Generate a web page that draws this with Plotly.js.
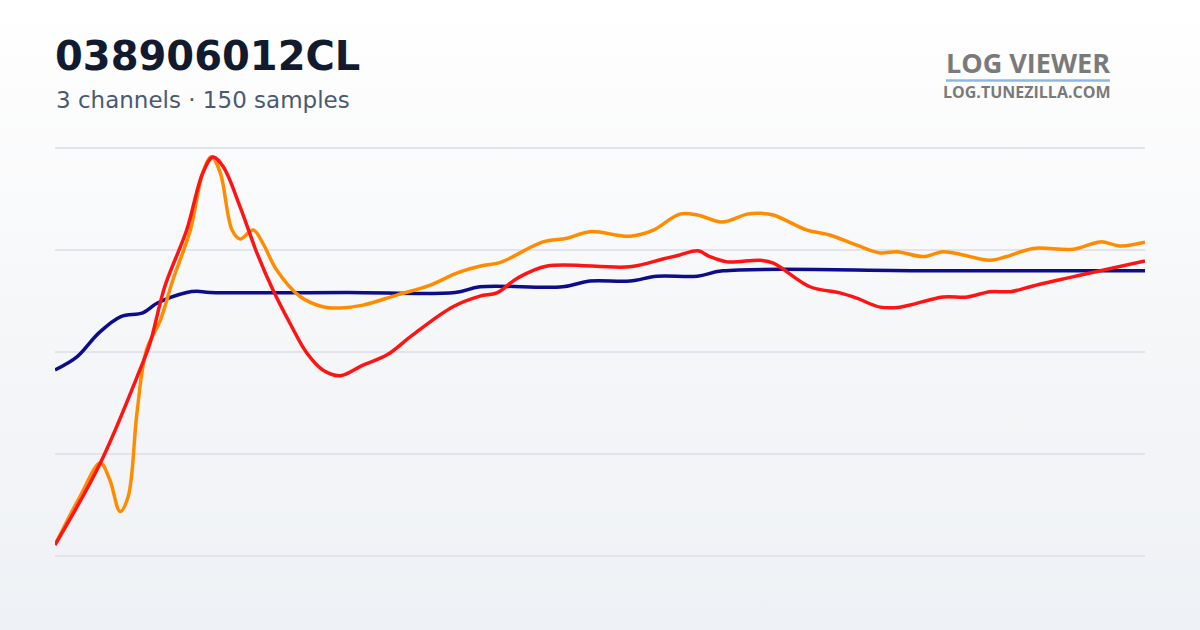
<!DOCTYPE html>
<html>
<head>
<meta charset="utf-8">
<script src="https://cdn.plot.ly/plotly-3.0.1.min.js"></script>
<style>
  html, body { margin: 0; padding: 0; }
  body {
    width: 1200px; height: 630px; overflow: hidden;
    background: linear-gradient(180deg, #ffffff 0%, #f6f7f9 50%, #eef1f5 100%);
  }
  #chart { width: 1200px; height: 630px; }
</style>
</head>
<body>
<div id="chart"></div>
<script>
// sample index / value pairs (values on a 0-100 scale)
const blue_x = [0, 3, 6, 9, 12, 14, 18, 19.4, 21.2, 40, 54.7, 58.1, 69.4, 73.1, 78.6, 82.3, 87.8, 91.3, 120, 149];
const blue_y = [45.6, 48.8, 54.7, 58.7, 59.6, 62.0, 64.6, 64.9, 64.6, 64.6, 64.6, 66.0, 66.0, 67.4, 67.4, 68.6, 68.6, 69.9, 69.9, 69.9];

const red_x = [0, 6.2, 11.6, 13, 15, 18, 20.2, 21.6, 23, 25.3, 27.6, 29.8, 32.1, 34.4, 36.6, 39.0,
  42.1, 45.4, 48.9, 54.4, 58.1, 60.4, 63.2, 67.3, 78.6, 83.1, 85.4, 87.9, 89.5, 91.9, 96.4, 98.2,
  103.2, 107.3, 109.6, 112.8, 115.5, 121.4, 124.7, 127.8, 130.6, 133.7, 149];
const red_y = [2.7, 22.8, 45.6, 52.2, 66.0, 79.9, 93.9, 97.8, 95.4, 85.6, 74.3, 65.2, 57.1, 49.8, 45.6, 44.2,
  46.8, 49.3, 54.2, 61.1, 63.7, 64.5, 68.1, 71.1, 70.9, 72.8, 73.8, 74.8, 73.4, 72.1, 72.5, 71.8,
  66.0, 64.5, 63.2, 61.0, 61.0, 63.5, 63.5, 64.8, 64.8, 66.2, 72.3];

const orange_x = [0, 3.4, 6.2, 7.5, 8.9, 10.0, 11.2, 12.5, 14.4, 16.1, 18.5, 20.2, 21.4, 22.6, 24.2, 25.3,
  27.1, 28.4, 30.3, 33.5, 36.6, 39.0, 42.1, 46.8, 51.3, 55.0, 58.5, 60.8, 66.7, 70.0, 73.1, 78.6,
  81.8, 85.4, 87.8, 91.2, 94.6, 96.4, 98.2, 102.8, 105.9, 109.6, 112.8, 115.1, 118.7, 121.4, 124.1,
  127.8, 130.1, 133.7, 139.2, 142.9, 145.6, 149];
const orange_y = [2.7, 14.5, 22.8, 18.6, 10.9, 14.5, 35.0, 50.5, 57.8, 67.6, 79.9, 93.9, 97.9, 93.9, 79.9, 77.7,
  79.9, 76.7, 70.1, 63.6, 61.1, 60.8, 61.5, 64.0, 66.4, 69.4, 71.2, 71.9, 77.0, 77.9, 79.5, 78.4,
  79.9, 83.8, 83.6, 81.9, 83.8, 84.0, 83.6, 79.9, 78.7, 76.2, 74.3, 74.6, 73.4, 74.6, 73.8,
  72.5, 73.4, 75.4, 75.2, 77.0, 76.0, 76.9];

const y_ticks = [0, 25, 50, 75, 100];

function channel(x, y, color) {
    return {
        x: x,
        y: y,
        type: 'scatter',
        mode: 'lines',
        hoverinfo: 'skip',
        line: { color: color, width: 3.5, shape: 'spline', smoothing: 1 }
    };
}

const traces = [
    channel(blue_x, blue_y, '#0c0c8c'),
    channel(orange_x, orange_y, '#ff8c00'),
    channel(red_x, red_y, '#ff1414')
];

// pixel helpers for the text blocks (plot area is 55..1145 x 144..560)
const px = (v) => (v - 55) / 1090;
const py = (v) => (560 - v) / 416;

Plotly.newPlot('chart', traces, {
    width: 1200,
    height: 630,
    showlegend: false,
    paper_bgcolor: 'rgba(0,0,0,0)',
    plot_bgcolor: 'rgba(0,0,0,0)',
    margin: { l: 55, r: 55, t: 144, b: 70 },
    xaxis: {
        range: [0, 149],
        showgrid: false, zeroline: false, showticklabels: false, showline: false
    },
    yaxis: {
        range: [-1, 101],
        tickvals: y_ticks,
        showgrid: true, gridcolor: '#e1e4ea', gridwidth: 1.5,
        zeroline: false, showticklabels: false, showline: false
    },
    shapes: [{
        type: 'line', xref: 'paper', yref: 'paper',
        x0: px(946), x1: px(1110), y0: py(80.5), y1: py(80.5),
        line: { color: '#8fb8de', width: 2.5 }
    }],
    annotations: [
        {
            text: '<b>038906012CL</b>', xref: 'paper', yref: 'paper',
            x: px(53), y: py(31), xanchor: 'left', yanchor: 'top', showarrow: false,
            font: { family: 'DejaVu Sans', size: 40, color: '#111a2e' }
        },
        {
            text: '3 channels · 150 samples', xref: 'paper', yref: 'paper',
            x: px(54), y: py(85), xanchor: 'left', yanchor: 'top', showarrow: false,
            font: { family: 'DejaVu Sans', size: 23, color: '#4a5a70' }
        },
        {
            text: '<b>LOG VIEWER</b>', xref: 'paper', yref: 'paper',
            x: px(1111), y: py(43), xanchor: 'right', yanchor: 'top', showarrow: false,
            borderpad: 0,
            font: { family: 'Open Sans', size: 27, color: '#7a7a7a' }
        },
        {
            text: '<b>LOG.TUNEZILLA.COM</b>', xref: 'paper', yref: 'paper',
            x: px(1112), y: py(80), xanchor: 'right', yanchor: 'top', showarrow: false,
            borderpad: 0,
            font: { family: 'Open Sans', size: 16, color: '#7a7a7a' }
        }
    ]
}, { displayModeBar: false, staticPlot: true });
</script>
</body>
</html>
